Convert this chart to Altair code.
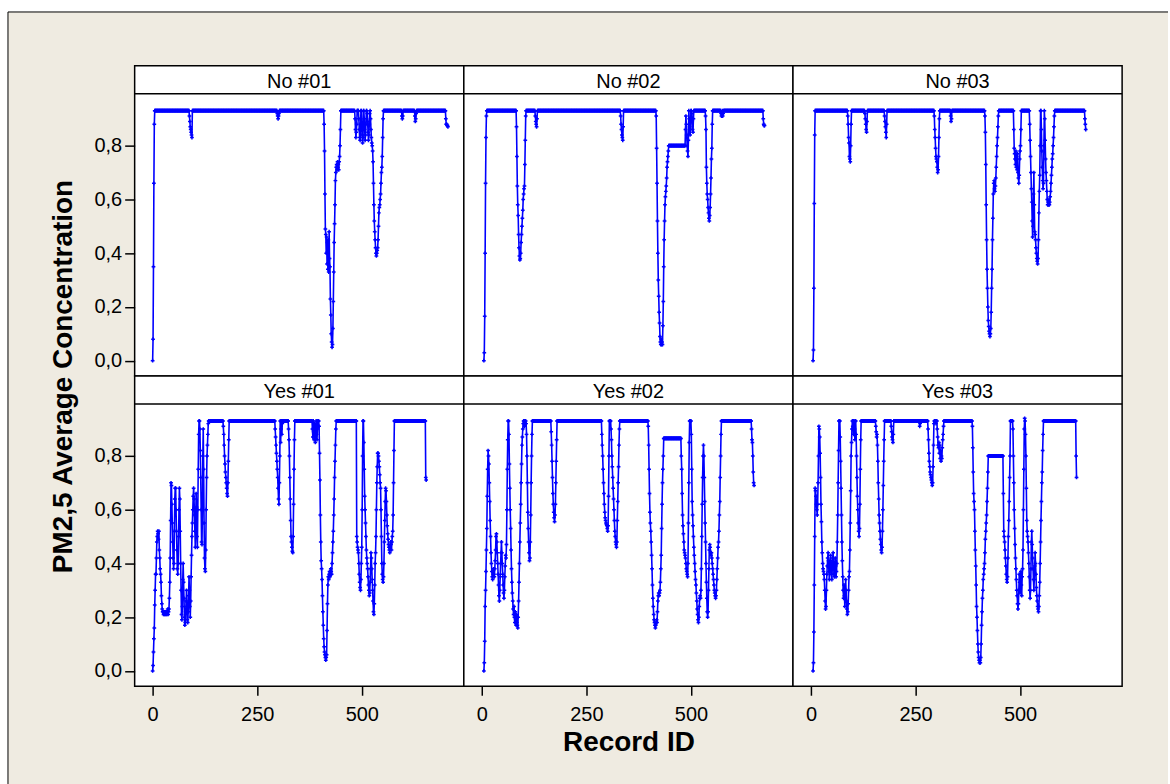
import altair as alt
import pandas as pd

PANELS = ["No #01", "No #02", "No #03", "Yes #01", "Yes #02", "Yes #03"]
START_ID = [0, 5, 5, 0, 5, 5]
X_TICKS = [0, 250, 500]
Y_TICKS = [0.0, 0.2, 0.4, 0.6, 0.8]

# Each series: single readings, or [value, repeat count] for flat stretches.
NO_01 = [0.0, 0.08, 0.35, 0.66, 0.88,
         [0.93, 83],
         0.91, 0.89, 0.87, 0.86, 0.85, 0.84, 0.83,
         [0.93, 203],
         0.92, 0.91, 0.90, 0.91, 0.92,
         [0.93, 107],
         0.88, 0.78, 0.62, 0.49, 0.47, 0.40, 0.46, 0.36, 0.44, 0.34, 0.45, 0.33, 0.48, 0.38, 0.35,
         0.23, 0.17, 0.10, 0.07, 0.05, 0.06, 0.12, 0.22, 0.33, 0.44, 0.51, 0.58, 0.67, 0.70, 0.72,
         0.73, 0.71, 0.74, 0.72, 0.73, 0.71, 0.74, 0.76, 0.80, 0.86,
         [0.93, 34],
         0.90, 0.86, 0.83, 0.85, 0.88, [0.93, 4], 0.90, 0.86, 0.83, 0.82, 0.86, [0.93, 2],
         0.88, 0.84, 0.81, 0.83, [0.93, 2], 0.90, 0.86, 0.82, 0.84, 0.88, [0.93, 2],
         0.92, 0.89, 0.85, 0.82, 0.84, 0.88, 0.92, 0.93, 0.90, 0.86, 0.83, 0.81, 0.80, 0.78,
         0.74, 0.66, 0.58, 0.52, 0.48, 0.45, 0.42, 0.40, 0.39, 0.40, 0.41, 0.42, 0.45, 0.50,
         0.55, 0.57, 0.58, 0.60, 0.62, 0.66, 0.70, 0.72, 0.76, 0.83, 0.90,
         [0.93, 44], 0.91, 0.90, 0.91, [0.93, 28], 0.91, 0.89, 0.90, 0.92, [0.93, 70],
         0.90, 0.88, 0.88, 0.875, 0.875, 0.87]

NO_02 = [0.0, 0.03, 0.165, 0.40, 0.66, 0.83, 0.91,
         [0.93, 71],
         0.87, 0.76, 0.65, 0.58, 0.54, 0.47, 0.42, 0.39, 0.375, 0.38, 0.40, 0.44, 0.47, 0.50,
         0.53, 0.56, 0.60, 0.62, 0.64, 0.65, 0.73, 0.82, 0.91,
         [0.93, 22],
         0.91, 0.89, 0.88, 0.87, 0.90,
         [0.93, 199],
         0.91, 0.88, 0.86, 0.84, 0.83, 0.82, 0.87,
         [0.93, 78],
         0.91, 0.79, 0.66, 0.52, 0.40, 0.30, 0.24, 0.18, 0.14, 0.09, 0.07, 0.06, 0.08, 0.06,
         0.07, 0.06, 0.13, 0.22, 0.35, 0.45, 0.52, 0.58, 0.61, 0.63, 0.65, 0.68, 0.72, 0.74,
         0.76, 0.78,
         [0.80, 40],
         0.86, 0.91, 0.88, 0.84, 0.80, 0.78, 0.76, 0.82, 0.93, 0.90, 0.87, 0.84, 0.86, 0.93,
         0.93, 0.92, 0.89, 0.86, 0.85, 0.90,
         [0.93, 28],
         0.91, 0.86, 0.72, 0.66, 0.62, 0.60, 0.57, 0.55, 0.53, 0.52, 0.54, 0.57, 0.62, 0.68,
         0.75, 0.79, 0.88,
         [0.93, 20], 0.92, 0.91, 0.92, 0.93, 0.91, 0.92, [0.93, 95],
         0.90, 0.88, 0.875, 0.875]

NO_03 = [0.0, 0.04, 0.27, 0.585, 0.84,
         [0.93, 78],
         0.91, 0.88, 0.83, 0.81, 0.76, 0.75, 0.74, 0.80, 0.88,
         [0.93, 32],
         0.92, 0.90, 0.88, 0.86, 0.85, 0.89,
         [0.93, 41],
         0.91, 0.89, 0.87, 0.85, 0.83, 0.88,
         [0.93, 113],
         0.91, 0.86, 0.83, 0.79, 0.76, 0.75, 0.74, 0.72, 0.70, 0.71, 0.76, 0.83, 0.90,
         [0.93, 26],
         0.91, 0.89, 0.90,
         [0.93, 79],
         0.91, 0.85, 0.73, 0.58, 0.45, 0.34, 0.27, 0.20, 0.15, 0.127, 0.11, 0.10, 0.09, 0.10,
         0.12, 0.18, 0.27, 0.34, 0.45, 0.53, 0.62, 0.66, 0.67, 0.64, 0.63, 0.65, 0.68, 0.72,
         0.76, 0.80, 0.83, 0.87, 0.91,
         [0.93, 36],
         0.86, 0.79, 0.77, 0.75, 0.73, 0.78, 0.72, 0.76, 0.71, 0.77, 0.70, 0.68, 0.66, 0.69,
         0.75, 0.78, 0.80, 0.86,
         [0.93, 20],
         0.88, 0.82, 0.76, 0.70, 0.64, 0.59, 0.52, 0.46, 0.50, 0.62, 0.70, 0.58, 0.48, 0.47,
         0.45, 0.42, 0.40, 0.38, 0.37, 0.36, 0.38, 0.45, 0.55, 0.63, 0.69, 0.80,
         [0.93, 2],
         0.86, 0.78, 0.72, 0.67, 0.64, 0.66, 0.80, 0.93, 0.90, 0.82, 0.75, 0.70, 0.67, 0.63,
         0.60, 0.58, 0.59, 0.58, 0.60, 0.58, 0.59, 0.61, 0.63, 0.66, 0.69, 0.72, 0.75, 0.77,
         0.80, 0.83, 0.87, 0.91,
         [0.93, 72],
         0.90, 0.88, 0.86]

YES_01 = [0.0, 0.02, 0.07, 0.12, 0.16, 0.245, 0.30, 0.36, 0.36, 0.42, 0.48, 0.50, 0.52, 0.51,
          0.49, 0.52, 0.45, 0.42, 0.38, 0.36, 0.33, 0.28, 0.25, 0.23, 0.22, 0.22, 0.21, 0.22,
          0.21, 0.22, 0.21, 0.22, 0.21, 0.22, 0.21, 0.22, 0.23, 0.21, 0.22, 0.23, 0.27, 0.33,
          0.42, 0.56, 0.70, 0.69, 0.62, 0.55, 0.48, 0.42, 0.38, 0.40, 0.52, 0.64, 0.68, 0.68,
          0.60, 0.52, 0.45, 0.38, 0.36, 0.40, 0.50, 0.60, 0.68, 0.64, 0.52, 0.40, 0.30, 0.21,
          0.19, 0.24, 0.34, 0.40, 0.33, 0.27, 0.20, 0.17, 0.18, 0.22, 0.26, 0.30, 0.24, 0.19,
          0.18, 0.22, 0.28, 0.35, 0.30, 0.24, 0.20, 0.26, 0.35, 0.43, 0.50, 0.55, 0.60, 0.65,
          0.68, 0.64, 0.58, 0.52, 0.46, 0.56, 0.66, 0.61, 0.50, 0.46, 0.60, 0.75, 0.88, 0.93,
          0.93, 0.90, 0.82, 0.72, 0.60, 0.48, 0.47, 0.60, 0.80, 0.90, 0.75, 0.55, 0.42, 0.38,
          0.37, 0.45, 0.60, 0.72, 0.80, 0.84, 0.88, 0.92,
          [0.93, 35],
          0.91, 0.88, 0.84, 0.80, 0.77, 0.74, 0.72, 0.70, 0.68, 0.66, 0.65, 0.70, 0.78, 0.86,
          [0.93, 110],
          0.90, 0.87, 0.84, 0.81, 0.78, 0.75, 0.72, 0.68, 0.64, 0.62, 0.70, 0.80, 0.93, 0.85,
          0.90, 0.93, 0.88, 0.92,
          [0.93, 14],
          0.90, 0.86, 0.80, 0.72, 0.64, 0.56, 0.50, 0.48, 0.46, 0.445, 0.44, 0.50, 0.62, 0.75, 0.86,
          [0.93, 42],
          0.90, 0.87, 0.93, 0.89, 0.86, 0.92, 0.88, 0.85, 0.91, 0.93, 0.88, 0.86, 0.90,
          [0.93, 3],
          0.91, 0.81, 0.71, 0.58, 0.48, 0.41, 0.38, 0.34, 0.28, 0.22, 0.17, 0.12, 0.09, 0.07,
          0.06, 0.05, 0.04, 0.05, 0.06, 0.15, 0.25, 0.32, 0.35, 0.34, 0.36, 0.37, 0.35, 0.36,
          0.38, 0.37, 0.36, 0.40, 0.44, 0.48, 0.52, 0.58, 0.64, 0.72, 0.78, 0.84, 0.90,
          [0.93, 49],
          0.50, 0.48, 0.46, 0.45, 0.44, 0.40, 0.36, 0.33, 0.31, 0.30, 0.34, 0.40, 0.46, 0.60,
          0.80, [0.93, 2], 0.85, 0.75, 0.65, 0.60, 0.55, 0.50, 0.45, 0.42, 0.40, 0.38, 0.35,
          0.32, 0.30, 0.28, 0.29, 0.33, 0.38, 0.44, 0.42, 0.38, 0.34, 0.30, 0.26, 0.22, 0.21,
          0.25, 0.32, 0.40, 0.44, 0.50, 0.60, 0.70, 0.76, 0.81, 0.81, 0.80, 0.78, 0.76, 0.73,
          0.70, 0.68, 0.60, 0.50, 0.40, 0.36, 0.34, 0.33, 0.35, 0.40, 0.48, 0.56, 0.63, 0.68,
          0.67, 0.63, 0.58, 0.54, 0.51, 0.49, 0.47, 0.46, 0.45, 0.44, 0.46, 0.48, 0.47, 0.45,
          0.48, 0.50, 0.52, 0.58, 0.70, 0.82,
          [0.93, 75],
          0.72, 0.71]

YES_02 = [0.0, 0.03, 0.11, 0.24, 0.30, 0.37, 0.45, 0.53, 0.65, 0.75, 0.82, 0.80, 0.77, 0.70,
          0.63, 0.56, 0.50, 0.44, 0.40, 0.37, 0.35, 0.34, 0.36, 0.38, 0.36, 0.35, 0.38, 0.41,
          0.45, 0.50, 0.51, 0.48, 0.44, 0.40, 0.36, 0.32, 0.28, 0.26, 0.30, 0.35, 0.40, 0.44,
          0.48, 0.44, 0.40, 0.36, 0.32, 0.29, 0.27, 0.30, 0.35, 0.39, 0.43, 0.42, 0.47, 0.60,
          0.75, 0.86, 0.93, 0.93, 0.88, 0.77, 0.68, 0.60, 0.53, 0.45, 0.38, 0.33, 0.29, 0.26,
          0.23, 0.21, 0.24, 0.20, 0.18, 0.22, 0.19, 0.17, 0.21, 0.18, 0.17, 0.16, 0.20, 0.26,
          0.33, 0.40, 0.48, 0.55, 0.62, 0.70, 0.77, 0.84, 0.87, 0.90, 0.92, 0.93, 0.93, 0.91,
          0.93, 0.92, 0.93, 0.92, 0.88, 0.80, 0.70, 0.59, 0.53, 0.48, 0.44, 0.41, 0.42, 0.48,
          0.58, 0.70, 0.80, 0.88,
          [0.93, 45],
          0.89, 0.84, 0.78, 0.72, 0.66, 0.62, 0.59, 0.57, 0.555, 0.58, 0.62, 0.70, 0.78, 0.86,
          [0.93, 107],
          0.88, 0.84, 0.80, 0.75, 0.70, 0.66, 0.62, 0.59, 0.57, 0.56, 0.55, 0.545, 0.54, 0.53,
          0.52, 0.54, 0.65, 0.80, [0.93, 4], 0.90, 0.86, 0.80, 0.76, 0.72, 0.68, 0.64, 0.60,
          0.56, 0.52, 0.50, 0.48, 0.47, 0.46, 0.48, 0.56, 0.63, 0.70, 0.76, 0.84, 0.90,
          [0.93, 68],
          0.91, 0.84, 0.75, 0.66, 0.59, 0.55, 0.52, 0.48, 0.43, 0.38, 0.32, 0.27, 0.24, 0.21,
          0.19, 0.18, 0.17, 0.16, 0.17, 0.18, 0.19, 0.18, 0.22, 0.26, 0.28, 0.29, 0.28, 0.29,
          0.30, 0.33, 0.38, 0.43, 0.53, 0.62, 0.70, 0.75, 0.80,
          [0.865, 42],
          0.80, 0.75, 0.66, 0.58, 0.54, 0.51, 0.48, 0.45, 0.44, 0.43, 0.42, 0.40, 0.38, 0.37,
          0.36, 0.35, 0.40, 0.55, 0.70, 0.85, [0.93, 4], 0.88, 0.75, 0.63, 0.58, 0.54, 0.50,
          0.46, 0.43, 0.40, 0.37, 0.34, 0.32, 0.29, 0.26, 0.23, 0.21, 0.19, 0.18, 0.20, 0.24,
          0.27, 0.28, 0.27, 0.30, 0.38, 0.50, 0.62, 0.72, 0.80, 0.84, 0.80, 0.72, 0.63, 0.55,
          0.48, 0.40, 0.33, 0.27, 0.22, 0.20, 0.22, 0.30, 0.38, 0.45, 0.47, 0.46, 0.44, 0.43,
          0.44, 0.42, 0.40, 0.38, 0.36, 0.34, 0.32, 0.30, 0.29, 0.28, 0.27, 0.28, 0.30, 0.34,
          0.38, 0.42, 0.46, 0.48, 0.52, 0.58, 0.63, 0.72, 0.80, 0.88,
          [0.93, 72],
          0.90, 0.86, 0.85, 0.80, 0.74, 0.70, 0.69]

YES_03 = [0.0, 0.03, 0.145, 0.32, 0.50, 0.68, 0.67, 0.65, 0.62, 0.60, 0.58, 0.62, 0.70, 0.80,
          0.91, 0.90, 0.87, 0.81, 0.72, 0.62, 0.555, 0.48, 0.44, 0.40, 0.38, 0.37, 0.36, 0.34,
          0.30, 0.26, 0.23, 0.24, 0.30, 0.36, 0.39, 0.42, 0.44, 0.41, 0.37, 0.34, 0.37, 0.41,
          0.43, 0.40, 0.36, 0.34, 0.38, 0.42, 0.44, 0.40, 0.36, 0.35, 0.38, 0.42, 0.39, 0.35,
          0.37, 0.40, 0.48, 0.58, 0.70, 0.82, 0.93, 0.93, 0.93, 0.87, 0.78, 0.68, 0.58, 0.48,
          0.41, 0.35, 0.30, 0.27, 0.32, 0.28, 0.24, 0.29, 0.34, 0.30, 0.26, 0.23, 0.21, 0.22,
          0.25, 0.30, 0.35, 0.37, 0.45, 0.55, 0.67, 0.80, 0.85, 0.90, 0.93, 0.91, 0.93, 0.88,
          0.93, 0.90, 0.86, 0.93, 0.93, 0.88, 0.80, 0.72, 0.65, 0.60, 0.55, 0.52, 0.50, 0.53,
          0.62, 0.75, 0.86,
          [0.93, 35],
          0.91, 0.89, 0.87, 0.88, 0.84, 0.78, 0.70, 0.64, 0.58, 0.55, 0.52, 0.49, 0.47, 0.45,
          0.44, 0.46, 0.52, 0.60, 0.69, 0.78, 0.86,
          [0.93, 16],
          0.91, 0.89, 0.87, 0.86, 0.85, 0.88,
          [0.93, 62],
          0.91, 0.92,
          [0.93, 18],
          0.90, 0.86, 0.81, 0.78, 0.76, 0.74, 0.73, 0.72, 0.71, 0.70, 0.69, 0.70, 0.76, 0.84,
          0.92, [0.93, 4], 0.92, [0.93, 2], 0.90, 0.87, 0.84, 0.83, 0.85, 0.81, 0.84, 0.79,
          0.82, 0.78, 0.80, 0.79, 0.83, 0.86, 0.88, 0.91,
          [0.93, 68],
          0.91, 0.83, 0.74, 0.66, 0.63, 0.60, 0.52, 0.45, 0.39, 0.32, 0.24, 0.20, 0.15, 0.10,
          0.07, 0.05, 0.04, 0.03, 0.04, 0.03, 0.05, 0.10, 0.17, 0.22, 0.27, 0.30, 0.34, 0.36,
          0.38, 0.40, 0.44, 0.49, 0.52, 0.55, 0.58, 0.63, 0.68, 0.74,
          [0.80, 36],
          0.66, 0.52, 0.50, 0.48, 0.45, 0.42, 0.39, 0.36, 0.34, 0.33, 0.35, 0.42, 0.50, 0.56,
          0.63, 0.72, 0.80, [0.93, 6], 0.90, 0.80, 0.70, 0.60, 0.53, 0.47, 0.42, 0.38, 0.34,
          0.30, 0.28, 0.25, 0.23, 0.25, 0.30, 0.36, 0.33, 0.29, 0.34, 0.37, 0.32, 0.28, 0.35,
          0.38, 0.45, 0.60, 0.75, 0.90, 0.94, 0.93, 0.88, 0.80, 0.68, 0.56, 0.52, 0.50, 0.48,
          0.44, 0.40, 0.35, 0.30, 0.27, 0.30, 0.38, 0.48, 0.52, 0.47, 0.42, 0.38, 0.34, 0.30,
          0.34, 0.39, 0.44, 0.40, 0.36, 0.31, 0.28, 0.26, 0.24, 0.23, 0.22, 0.24, 0.28, 0.33,
          0.40, 0.48, 0.56, 0.63, 0.70, 0.74, 0.82, 0.88,
          [0.93, 78],
          0.80, 0.72]

SERIES = [NO_01, NO_02, NO_03, YES_01, YES_02, YES_03]

BEIGE = "#EFEBE1"
BLUE = "#0000FF"
FONT = "Liberation Sans"
W, H, HEAD = 330, 311, 28
XDOM = [-43, 744]
YDOM = [-0.057, 1.097]


def expand(runs, start):
    ids, vals = [], []
    rid = start
    for item in runs:
        if isinstance(item, list):
            v, n = item
        else:
            v, n = item, 1
        for _ in range(n):
            ids.append(rid)
            vals.append(v)
            rid += 1
    return ids, vals


one = pd.DataFrame({"k": [0]})


def panel(i):
    ids, vals = expand(SERIES[i], START_ID[i])
    df = pd.DataFrame({"record": ids, "pm": vals})
    row, col = divmod(i, 3)

    if row == 1:
        xkw = dict(values=X_TICKS, grid=False, domain=False, tickSize=9, tickWidth=1.5,
                   tickColor="black", labelPadding=9, labelFont=FONT, labelFontSize=20,
                   labelColor="black", zindex=1)
        if col == 1:
            xkw.update(title="Record ID", titleFont=FONT, titleFontSize=28,
                       titleFontWeight="bold", titleColor="black", titleY=64,
                       titleBaseline="alphabetic")
        else:
            xkw.update(title=None)
        xaxis = alt.Axis(**xkw)
    else:
        xaxis = None

    if col == 0:
        ykw = dict(values=Y_TICKS, grid=False, domain=False, tickSize=10, tickWidth=1.5,
                   tickColor="black", labelPadding=3, labelFont=FONT, labelFontSize=20,
                   labelColor="black", zindex=1,
                   labelExpr="replace(format(datum.value, '.1f'), '.', ',')")
        if row == 0:
            ykw.update(title="PM2,5 Average Concentration", titleFont=FONT,
                       titleFontSize=28, titleFontWeight="bold", titleColor="black",
                       titleAngle=270, titleX=-63, titleY=H, titleAlign="center",
                       titleBaseline="alphabetic")
        else:
            ykw.update(title=None)
        yaxis = alt.Axis(**ykw)
    else:
        yaxis = None

    xs = alt.Scale(domain=XDOM, nice=False, zero=False)
    ys = alt.Scale(domain=YDOM, nice=False, zero=False)

    layers = []
    if i == 0:
        layers.append(alt.Chart(one).mark_rect(fill=BEIGE, clip=False).encode(
            x=alt.value(-127), x2=alt.value(1036), y=alt.value(-54), y2=alt.value(720)))
        layers.append(alt.Chart(one).mark_rule(color="black", strokeWidth=1, clip=False).encode(
            x=alt.value(-127), x2=alt.value(1036), y=alt.value(-54)))
        layers.append(alt.Chart(one).mark_rule(color="black", strokeWidth=1, clip=False).encode(
            x=alt.value(-127), y=alt.value(-54), y2=alt.value(720)))
        layers.append(alt.Chart(one).mark_rect(fill="white", stroke="black", strokeWidth=1.5).encode(
            x=alt.value(0), x2=alt.value(W), y=alt.value(0), y2=alt.value(H)))

    layers.append(alt.Chart(one).mark_rule(color="black", strokeWidth=1.5).encode(
        x=alt.value(0), x2=alt.value(W), y=alt.value(HEAD)))
    layers.append(alt.Chart(pd.DataFrame({"label": [PANELS[i]]})).mark_text(
        font=FONT, fontSize=20, color="black", baseline="alphabetic", align="center").encode(
        x=alt.value(W / 2), y=alt.value(22), text="label:N"))

    base = alt.Chart(df)
    line = base.mark_line(color=BLUE, strokeWidth=1.6, clip=True).encode(
        x=alt.X("record:Q", scale=xs, axis=xaxis),
        y=alt.Y("pm:Q", scale=ys, axis=yaxis))
    pts = base.mark_point(shape="cross", filled=True, size=14, color=BLUE, opacity=1,
                          clip=True).encode(
        x=alt.X("record:Q", scale=xs),
        y=alt.Y("pm:Q", scale=ys))
    layers += [line, pts]

    return alt.layer(*layers).properties(width=W, height=H)


charts = [panel(i) for i in range(6)]

chart = alt.ConcatChart(concat=charts, columns=3, spacing=0, bounds="flush").properties(
    padding={"left": 6, "top": 9, "right": 0, "bottom": 0}
).configure(background="white").configure_view(
    stroke="black", strokeWidth=1.5, fill="white"
)

chart.save("out.html", embed_options={"renderer": "svg", "actions": False})
